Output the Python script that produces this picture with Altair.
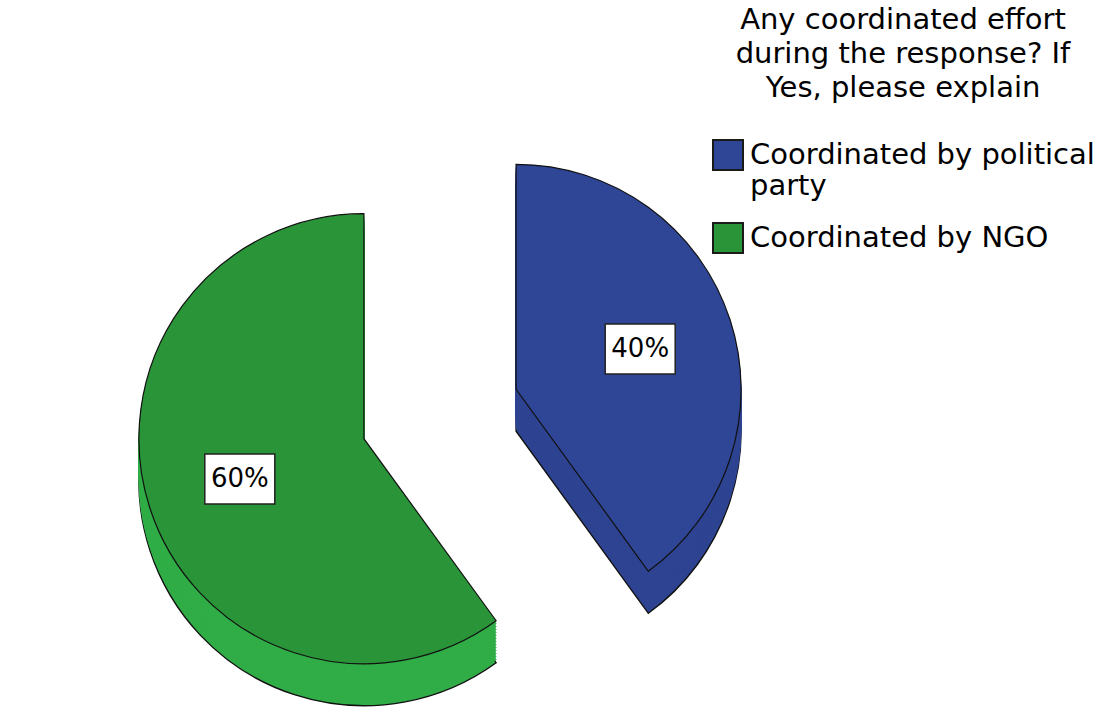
import math
import altair as alt
import pandas as pd

# ---- data ----
categories = ["Coordinated by political party", "Coordinated by NGO"]
percent = [40, 60]
legend_title = ["Any coordinated effort", "during the response? If", "Yes, please explain"]
legend_wrap = {"Coordinated by political party": ["Coordinated by political", "party"]}

# ---- styles / layout ----
top_colors = ["#2F4596", "#2A9438"]
side_colors = ["#2E4492", "#30AD46"]
FONT = "DejaVu Sans"
W, H = 1106, 715
R = 225
CX, CY = 440, 414
EXPLODE = 80
DEPTH = 42
STEP = 3
LABEL_R = 0.58 * R
BOX_W, BOX_H = 70, 50

df = pd.DataFrame({"category": categories, "percent": percent,
                   "order": list(range(len(categories)))})

THETA = alt.Scale(domain=[0, 100], range=[0, 2 * math.pi])


def slices(dz=0):
    return (
        alt.Chart(df)
        .transform_window(cum="sum(percent)", sort=[alt.SortField("order", order="ascending")],
                          frame=[None, 0])
        .transform_calculate(start="datum.cum - datum.percent")
        .transform_calculate(mid="(datum.cum - datum.percent / 2) / 100 * 2 * PI")
        .transform_calculate(cx=f"{CX} + {EXPLODE} * sin(datum.mid)")
        .transform_calculate(cy=f"{CY} - {EXPLODE} * cos(datum.mid) + {dz}")
        .transform_calculate(lx=f"datum.cx + {LABEL_R} * sin(datum.mid)")
        .transform_calculate(ly=f"datum.cy - {LABEL_R} * cos(datum.mid)")
        .transform_calculate(bx1=f"datum.lx - {BOX_W / 2}", bx2=f"datum.lx + {BOX_W / 2}",
                             by1=f"datum.ly - {BOX_H / 2}", by2=f"datum.ly + {BOX_H / 2}",
                             lab="datum.percent + '%'")
    )


def pos():
    return dict(x=alt.X("cx:Q", scale=None, axis=None), y=alt.Y("cy:Q", scale=None, axis=None))


is_first = alt.datum.category == categories[0]
side_fill = alt.condition(is_first, alt.value(side_colors[0]), alt.value(side_colors[1]))

layers = []
for dz in range(DEPTH, 0, -STEP):
    deepest = dz == DEPTH
    layers.append(
        slices(dz).mark_arc(outerRadius=R,
                            strokeWidth=1.4 if deepest else 1,
                            **({"stroke": "#111111"} if deepest else {}))
        .encode(theta=alt.Theta("start:Q", scale=THETA, stack=None),
                theta2=alt.Theta2("cum:Q"),
                fill=side_fill,
                **({} if deepest else {"stroke": side_fill}),
                **pos())
    )

label_expr = "datum.label"
for k, v in legend_wrap.items():
    label_expr = f"datum.label == '{k}' ? {v} : ({label_expr})"

top = slices(0).mark_arc(outerRadius=R, stroke="#111111", strokeWidth=1.2).encode(
    theta=alt.Theta("start:Q", scale=THETA, stack=None),
    theta2=alt.Theta2("cum:Q"),
    fill=alt.Color(
        "category:N",
        scale=alt.Scale(domain=categories, range=top_colors),
        sort=categories,
        legend=alt.Legend(
            title=legend_title, orient="none", legendX=712, legendY=6,
            titleFont=FONT, titleFontSize=29, titleFontWeight="normal", titleColor="black",
            titleAlign="center", titleAnchor="middle", titleLineHeight=34, titlePadding=36,
            titleLimit=1000,
            labelFont=FONT, labelFontSize=29, labelColor="black", labelLimit=0,
            labelExpr=label_expr, labelOffset=6,
            symbolType="square", symbolSize=900, symbolStrokeColor="#1a1a1a",
            symbolStrokeWidth=2, rowPadding=18, padding=0,
        ),
    ),
    **pos(),
)

boxes = slices(0).mark_rect(fill="white", stroke="#222222", strokeWidth=1.5).encode(
    x=alt.X("bx1:Q", scale=None, axis=None), x2="bx2:Q",
    y=alt.Y("by1:Q", scale=None, axis=None), y2="by2:Q",
)
texts = slices(0).mark_text(font=FONT, fontSize=26, color="black", align="center",
                            baseline="middle").encode(
    x=alt.X("lx:Q", scale=None, axis=None), y=alt.Y("ly:Q", scale=None, axis=None),
    text="lab:N",
)

chart = (
    alt.layer(*layers, top, boxes, texts)
    .properties(width=W, height=H, padding=0, autosize=alt.AutoSizeParams(type="none"),
                background="white")
    .configure_view(stroke=None)
)

chart.save("out.html", embed_options={"renderer": "svg", "actions": False})
